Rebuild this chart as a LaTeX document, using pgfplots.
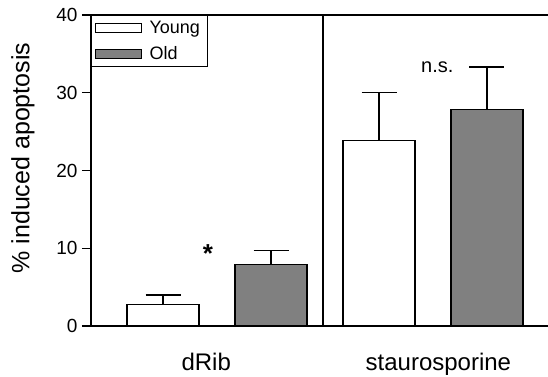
\documentclass[border=0pt]{standalone}
\usepackage{pgfplots}
\pgfplotsset{compat=1.18}
\usepackage{fontspec}
\setmainfont{Liberation Sans}
\begin{document}
\begin{tikzpicture}
\useasboundingbox (-91pt,-50pt) rectangle (457pt,326pt);
\begin{axis}[
  at={(0,0)}, anchor=south west,
  scale only axis,
  width=457pt, height=311pt,
  xmin=-0.667, xmax=3.565,
  ymin=0, ymax=40,
  axis lines=left,
  axis line style={-, line width=1.1pt},
  ytick={0,10,20,30,40},
  xtick={0.4,2.55},
  xticklabels={dRib,staurosporine},
  x tick style={draw=none},
  y tick style={line width=1.1pt, black},
  tick align=outside,
  major tick length=9pt,
  yticklabel style={font=\fontsize{19}{19}\selectfont, xshift=-1pt},
  xticklabel style={font=\fontsize{24}{24}\selectfont, yshift=-15pt},
  ylabel={\% induced apoptosis},
  ylabel style={font=\fontsize{25}{25}\selectfont, at={(rel axis cs:-0.149,0.54)}, anchor=center},
  /pgf/number format/assume math mode=true,
  clip=false,
  legend style={at={(0,1)}, anchor=north west, draw=black, line width=1pt,
    font=\fontsize{18}{18}\selectfont, inner xsep=4pt, inner ysep=4pt, row sep=7pt,
    cells={anchor=west}, nodes={inner xsep=4pt}},
  legend image code/.code={\draw[#1, line width=1pt] (0pt,-4.5pt) rectangle (46pt,4.5pt); \path (49pt,0pt);},
]
\addplot[ybar, bar width=72pt, bar shift=0pt, fill=white, draw=black, line width=1.2pt,
  error bars/.cd, y dir=plus, y explicit,
  error bar style={line width=1.2pt},
  error mark options={line width=1.2pt, mark size=17.5pt, rotate=90}]
  coordinates {(0,2.8) +- (0,1.2) (2,23.9) +- (0,6.1)};
\addlegendentry{Young}
\addplot[ybar, bar width=72pt, bar shift=0pt, fill=gray, draw=black, line width=1.2pt,
  error bars/.cd, y dir=plus, y explicit,
  error bar style={line width=1.2pt},
  error mark options={line width=1.2pt, mark size=17.5pt, rotate=90}]
  coordinates {(1,7.95) +- (0,1.8) (3,27.8) +- (0,5.5)};
\addlegendentry{Old}
\draw[line width=1.1pt] (rel axis cs:0,1) -- (rel axis cs:1,1);
\draw[line width=1.3pt] (axis cs:1.48,0) -- (axis cs:1.48,40);
\node[font=\fontsize{26}{26}\selectfont\bfseries] at (axis cs:0.417,9.3) {*};
\node[font=\fontsize{20}{20}\selectfont] at (axis cs:2.54,33.3) {n.s.};
\end{axis}
\end{tikzpicture}
\end{document}
